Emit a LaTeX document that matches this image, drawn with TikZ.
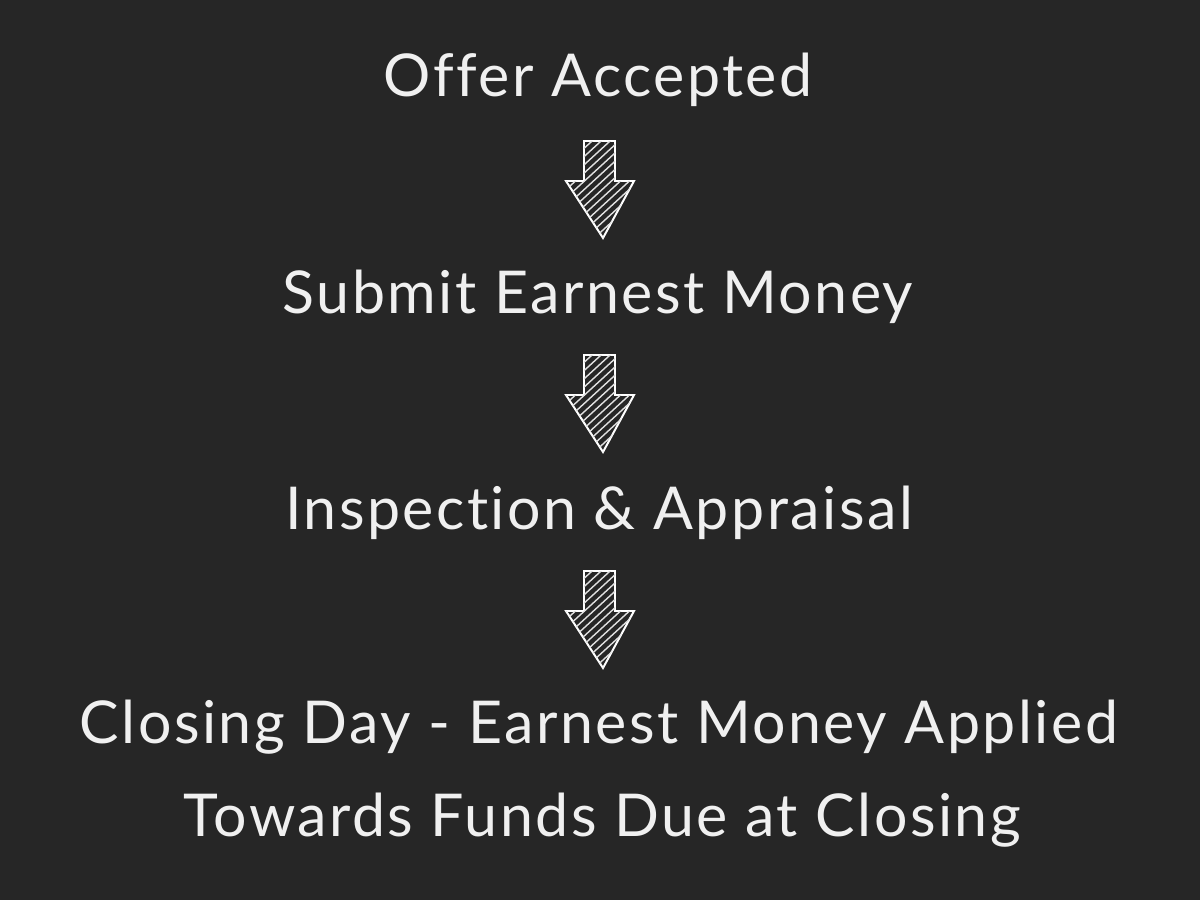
\documentclass[tikz,border=0pt]{standalone}
\usepackage{fontspec}
\setmainfont{Lato}[LetterSpace=4.2,Ligatures=NoCommon]
\begin{document}
\begin{tikzpicture}[x=0.025cm,y=-0.025cm,
  chalk/.style={text=white!94!black, font=\fontsize{42}{48}\selectfont, anchor=base, inner sep=0pt},
  arrowline/.style={draw=white, line width=1.4pt, line join=miter},
  hatch/.style={white!88!black, line width=1pt},
  downarrow/.pic={
    \path[arrowline] (-16,0) coordinate (-a) -- (15,0) -- (15,40) -- (34,40) -- (3,97) -- (-34,40) -- (-16,40) -- cycle;
    \begin{scope}
      \clip (-16,0) -- (15,0) -- (15,40) -- (34,40) -- (3,97) -- (-34,40) -- (-16,40) -- cycle;
      \foreach \i in {-120,-111,...,120} \draw[hatch] (\i-60,100) -- (\i+60,-10);
    \end{scope}
  }]
\fill[black!85] (0,0) rectangle (1200,900);
\useasboundingbox (0,0) rectangle (1200,900);
\node[chalk] (t1) at (598,97) {Offer Accepted};
\node[chalk] (t2) at (598,313) {Submit Earnest Money};
\node[chalk] (t3) at (599,529) {Inspection \& Appraisal};
\node[chalk] (t4) at (599,743) {Closing Day - Earnest Money Applied};
\node[chalk] (t5) at (602,836) {Towards Funds Due at Closing};
\pic (a1) at (600,141) {downarrow};
\pic (a2) at (600,355) {downarrow};
\pic (a3) at (600,571) {downarrow};
\end{tikzpicture}
\end{document}
